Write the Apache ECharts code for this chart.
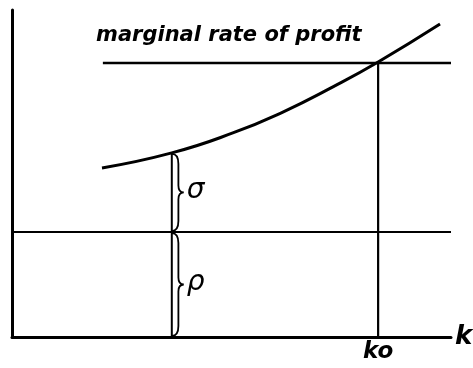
<!DOCTYPE html>
<html>
<head>
<meta charset="utf-8">
<script src="https://cdn.jsdelivr.net/npm/echarts@6/dist/echarts.min.js"></script>
<style>
  html, body { margin: 0; padding: 0; background: #fff; }
  #chart { width: 473px; height: 368px; }
</style>
</head>
<body>
<div id="chart"></div>
<script>
// curve of the rate of return (k, rate)
const curveK = [20.5, 36.4, 50.3, 61.7, 73.1, 83.4, 97.5];
const curveR = [51.7, 56.3, 62.4, 68.8, 76.5, 84.1, 95.7];

// horizontal levels
const profitRate = 83.8;
const profitStart = 20.7;
const baseRate = 32.1;

// positions on k
const k0 = 83.4;
const kMark = 36.4;
const rateAtMark = 56.3;

// braces: [k, from, to]
const braceLow = [kMark, 0, baseRate];
const braceHigh = [kMark, baseRate, rateAtMark];
const braceLabels = ['ρ', 'σ'];

const font = '"DejaVu Sans", sans-serif';

const myChart = echarts.init(document.getElementById('chart'));

myChart.setOption({
    animation: false,
    backgroundColor: '#fff',
    grid: {left: 12, right: 22, top: 10, bottom: 31, containLabel: false, outerBoundsMode: 'none'},
    xAxis: {
        type: 'value',
        min: 0,
        max: 100,
        name: 'k',
        nameLocation: 'end',
        nameGap: 4,
        nameTextStyle: {color: '#000', fontSize: 26, fontStyle: 'italic', fontWeight: 'bold', fontFamily: font, verticalAlign: 'middle'},
        axisLine: {show: true, onZero: false, lineStyle: {color: '#000', width: 3}},
        axisTick: {show: false},
        splitLine: {show: false},
        axisLabel: {
            customValues: [k0],
            formatter: () => 'ko',
            color: '#000',
            fontSize: 23,
            fontStyle: 'italic',
            fontWeight: 'bold',
            fontFamily: font,
            margin: 4
        }
    },
    yAxis: {
        type: 'value',
        min: 0,
        max: 100,
        axisLine: {show: true, onZero: false, lineStyle: {color: '#000', width: 3}},
        axisTick: {show: false},
        splitLine: {show: false},
        axisLabel: {show: false}
    },
    graphic: [{
        type: 'text',
        left: 96,
        top: 25,
        style: {
            text: 'marginal rate of profit',
            fill: '#000',
            font: 'italic bold 21px ' + font
        }
    }],
    series: [
        {
            type: 'line',
            smooth: true,
            symbol: 'none',
            lineStyle: {color: '#000', width: 3},
            data: curveK.map((k, i) => [k, curveR[i]])
        },
        {
            type: 'line',
            symbol: 'none',
            lineStyle: {color: '#000', width: 2.5},
            data: [[profitStart, profitRate], [100, profitRate]]
        },
        {
            type: 'line',
            symbol: 'none',
            lineStyle: {color: '#000', width: 2},
            data: [[0, baseRate], [100, baseRate]]
        },
        {
            type: 'line',
            symbol: 'none',
            lineStyle: {color: '#000', width: 2.2},
            data: [[k0, 0], [k0, profitRate]]
        },
        {
            type: 'line',
            symbol: 'none',
            lineStyle: {color: '#000', width: 2},
            data: [[kMark, 0], [kMark, rateAtMark]]
        },
        {
            type: 'custom',
            data: [braceLow, braceHigh],
            renderItem: function (params, api) {
                const top = api.coord([api.value(0), api.value(2)]);
                const bot = api.coord([api.value(0), api.value(1)]);
                const x0 = top[0];
                const y1 = top[1] + 1;
                const y2 = bot[1] - 1;
                const m = (y1 + y2) / 2;
                const w = 12;
                const b = x0 + w * 0.55;
                const d = 'M' + x0 + ',' + y1 +
                    ' Q' + b + ',' + y1 + ' ' + b + ',' + (y1 + 10) +
                    ' L' + b + ',' + (m - 7) +
                    ' Q' + b + ',' + m + ' ' + (x0 + w) + ',' + m +
                    ' Q' + b + ',' + m + ' ' + b + ',' + (m + 7) +
                    ' L' + b + ',' + (y2 - 10) +
                    ' Q' + b + ',' + y2 + ' ' + x0 + ',' + y2;
                return {
                    type: 'group',
                    children: [
                        {
                            type: 'path',
                            shape: {pathData: d},
                            style: {stroke: '#000', lineWidth: 1.8, fill: null}
                        },
                        {
                            type: 'text',
                            x: x0 + w + 3,
                            y: m - 2,
                            style: {
                                text: braceLabels[params.dataIndex],
                                fill: '#000',
                                font: 'italic 28px ' + font,
                                verticalAlign: 'middle'
                            }
                        }
                    ]
                };
            }
        }
    ]
});
</script>
</body>
</html>
